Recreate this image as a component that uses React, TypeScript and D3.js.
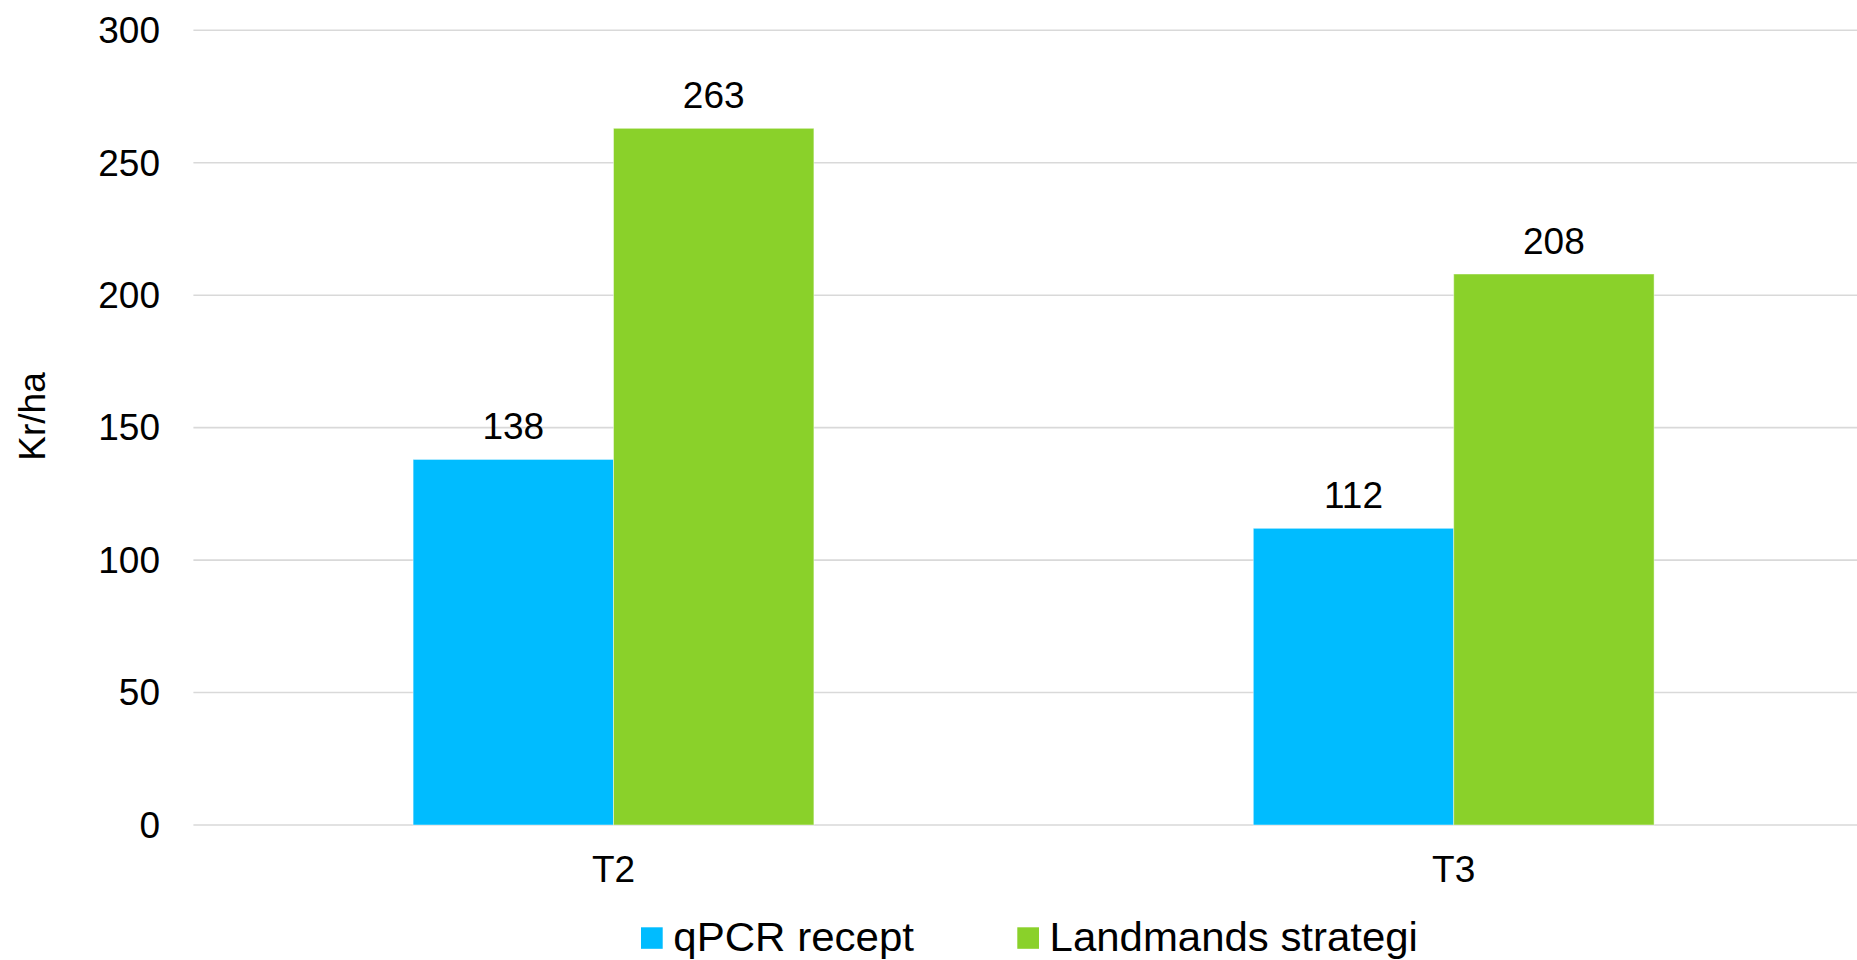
import React from "react";
import * as d3 from "d3";

const categories = ["T2", "T3"];
const seriesNames = ["qPCR recept", "Landmands strategi"];
const qpcrValues = [138, 112];
const landmandValues = [263, 208];
const yTicks = [0, 50, 100, 150, 200, 250, 300];
const colors = ["#00BCFF", "#8AD12A"];
const yLabel = "Kr/ha";

const W = 1857;
const H = 960;
const FONT = "Liberation Sans, Arial, Helvetica, sans-serif";

export default function App() {
  const y = d3.scaleLinear().domain([0, 300]).range([825, 30.3]);
  const x = d3
    .scaleBand<string>()
    .domain(categories)
    .range([193.4, 1873.8])
    .paddingInner(0.523)
    .paddingOuter(0.2615);
  const xi = d3
    .scaleBand<string>()
    .domain(seriesNames)
    .range([0, x.bandwidth()])
    .padding(0);
  const seriesValues = [qpcrValues, landmandValues];

  return (
    <svg
      width={W}
      height={H}
      style={{ position: "absolute", left: 0, top: 0, background: "#fff" }}
      fontFamily={FONT}
    >
      <rect x={0} y={0} width={W} height={H} fill="#fff" />
      {yTicks.map((t) => (
        <g key={t}>
          <line
            x1={193.4}
            x2={W}
            y1={y(t)}
            y2={y(t)}
            stroke="#D9D9D9"
            strokeWidth={1.6}
          />
          <text
            x={160}
            y={y(t) + 12.8}
            textAnchor="end"
            fontSize={37}
            fill="#000"
          >
            {t}
          </text>
        </g>
      ))}
      {categories.map((c, ci) => (
        <g key={c}>
          {seriesNames.map((s, si) => {
            const v = seriesValues[si][ci];
            const bx = (x(c) as number) + (xi(s) as number);
            return (
              <g key={s}>
                <rect
                  x={bx}
                  y={y(v)}
                  width={xi.bandwidth()}
                  height={y(0) - y(v)}
                  fill={colors[si]}
                  stroke="rgba(255,255,255,0.45)"
                  strokeWidth={1}
                />
                <text
                  x={bx + xi.bandwidth() / 2}
                  y={y(v) - 20.4}
                  textAnchor="middle"
                  fontSize={37}
                  fill="#000"
                >
                  {v}
                </text>
              </g>
            );
          })}
          <text
            x={(x(c) as number) + x.bandwidth() / 2}
            y={882.3}
            textAnchor="middle"
            fontSize={37}
            fill="#000"
          >
            {c}
          </text>
        </g>
      ))}
      <text
        transform={`translate(45,416.5) rotate(-90)`}
        textAnchor="middle"
        fontSize={37}
        fill="#000"
      >
        {yLabel}
      </text>
      {seriesNames.map((s, si) => {
        const lx = si === 0 ? 641 : 1017.3;
        const tw = si === 0 ? 240.7 : 368.3;
        return (
          <g key={s}>
            <rect x={lx} y={927.3} width={21.7} height={21.5} fill={colors[si]} />
            <text
              x={lx + 32.3}
              y={950.5}
              fontSize={40}
              fill="#000"
              textLength={tw}
              lengthAdjust="spacingAndGlyphs"
            >
              {s}
            </text>
          </g>
        );
      })}
    </svg>
  );
}
